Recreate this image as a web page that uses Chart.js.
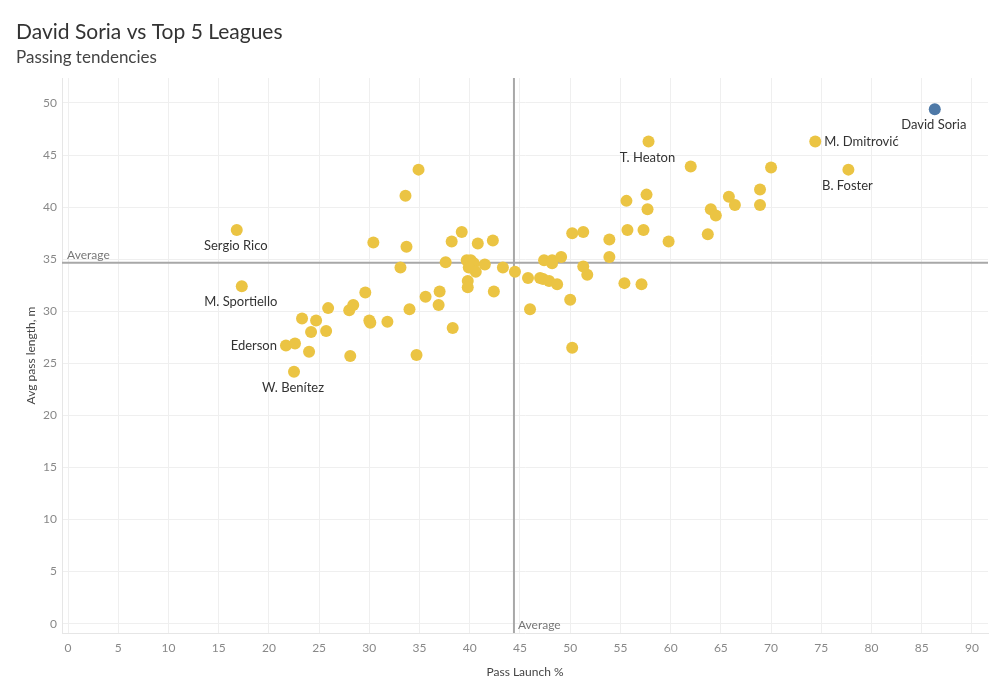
<!DOCTYPE html>
<html>
<head>
<meta charset="utf-8">
<script src="https://cdn.jsdelivr.net/npm/chart.js@4.4.1/dist/chart.umd.min.js"></script>
<style>
  html, body { margin: 0; padding: 0; background: #fff; }
</style>
</head>
<body>
<canvas id="chart" width="1000" height="700"></canvas>
<script>
// goalkeepers that get a name on the chart
const namedKeepers = ['T. Heaton', 'M. Dmitrović', 'B. Foster', 'Sergio Rico', 'M. Sportiello', 'Ederson', 'W. Benítez'];
const namedLaunch  = [57.8, 74.4, 77.7, 16.8, 17.3, 21.7, 22.5];
const namedLength  = [46.3, 46.3, 43.6, 37.8, 32.4, 26.7, 24.2];

// the highlighted keeper
const focusName   = 'David Soria';
const focusLaunch = 86.3;
const focusLength = 49.4;

// every other keeper in the top 5 leagues
const otherLaunch = [
  22.6, 30.4, 33.7, 33.1, 29.6, 35.6, 25.9, 28.0, 28.4, 34.0,
  23.3, 24.7, 30.0, 30.1, 31.8, 24.2, 25.7, 24.0, 28.1, 34.7,
  34.9, 33.6, 39.2, 38.2, 40.8, 42.3, 37.6, 39.7, 40.1, 40.4,
  39.9, 40.6, 41.5, 43.3, 44.5, 45.8, 47.0, 47.3, 47.9, 48.7,
  47.4, 48.2, 48.2, 49.1, 50.2, 51.3, 51.3, 51.7, 39.8, 39.8,
  37.0, 42.4, 36.9, 46.0, 50.0, 38.3, 50.2, 62.0, 70.0, 68.9,
  57.6, 55.6, 65.8, 57.7, 64.0, 64.5, 66.4, 68.9, 55.7, 57.3,
  53.9, 59.8, 63.7, 53.9, 55.4, 57.1
];
const otherLength = [
  26.9, 36.6, 36.2, 34.2, 31.8, 31.4, 30.3, 30.1, 30.6, 30.2,
  29.3, 29.1, 29.1, 28.9, 29.0, 28.0, 28.1, 26.1, 25.7, 25.8,
  43.6, 41.1, 37.6, 36.7, 36.5, 36.8, 34.7, 34.9, 34.9, 34.6,
  34.2, 33.8, 34.5, 34.2, 33.8, 33.2, 33.2, 33.1, 32.9, 32.6,
  34.9, 34.9, 34.6, 35.2, 37.5, 37.6, 34.3, 33.5, 32.9, 32.3,
  31.9, 31.9, 30.6, 30.2, 31.1, 28.4, 26.5, 43.9, 43.8, 41.7,
  41.2, 40.6, 41.0, 39.8, 39.8, 39.2, 40.2, 40.2, 37.8, 37.8,
  36.9, 36.7, 37.4, 35.2, 32.7, 32.6
];

// reference lines
const avgLaunch = 44.4;
const avgLength = 34.65;

// where each name sits relative to its dot
const labelSide = {
  'T. Heaton': 'below', 'M. Dmitrović': 'right', 'B. Foster': 'below',
  'Sergio Rico': 'below', 'M. Sportiello': 'below', 'Ederson': 'left',
  'W. Benítez': 'below', 'David Soria': 'below'
};

const yellow = '#EBC443';
const blue = '#4E79A7';
const fontFam = 'Lato, "Noto Sans", sans-serif';

const overlay = {
  id: 'overlay',
  beforeDatasetsDraw(chart) {
    const {ctx, chartArea: a, scales: {x, y}} = chart;
    const ax = x.getPixelForValue(avgLaunch);
    const ay = y.getPixelForValue(avgLength);
    ctx.save();
    ctx.strokeStyle = '#a8a8a8';
    ctx.lineWidth = 2;
    ctx.beginPath();
    ctx.moveTo(a.left, ay); ctx.lineTo(a.right, ay);
    ctx.moveTo(ax, a.top); ctx.lineTo(ax, a.bottom);
    ctx.stroke();
    ctx.fillStyle = '#777';
    ctx.font = '12px ' + fontFam;
    ctx.textAlign = 'left';
    ctx.textBaseline = 'alphabetic';
    ctx.fillText('Average', a.left + 5, ay - 4);
    ctx.fillText('Average', ax + 4, a.bottom - 4);
    ctx.restore();
  },
  afterDatasetsDraw(chart) {
    const {ctx} = chart;
    ctx.save();
    ctx.fillStyle = '#333';
    ctx.font = '13px ' + fontFam;
    chart.data.datasets.forEach((ds, di) => {
      if (!ds.names) return;
      chart.getDatasetMeta(di).data.forEach((pt, i) => {
        const name = ds.names[i];
        const side = labelSide[name];
        if (side === 'below') {
          ctx.textAlign = 'center'; ctx.textBaseline = 'middle';
          ctx.fillText(name, pt.x - 1, pt.y + 16);
        } else if (side === 'left') {
          ctx.textAlign = 'right'; ctx.textBaseline = 'middle';
          ctx.fillText(name, pt.x - 9, pt.y);
        } else {
          ctx.textAlign = 'left'; ctx.textBaseline = 'middle';
          ctx.fillText(name, pt.x + 9, pt.y);
        }
      });
    });
    ctx.restore();
  }
};

new Chart(document.getElementById('chart'), {
  type: 'scatter',
  data: {
    datasets: [
      {
        data: otherLaunch.map((v, i) => ({x: v, y: otherLength[i]})),
        backgroundColor: yellow, pointRadius: 6, pointBorderWidth: 0
      },
      {
        names: namedKeepers,
        data: namedLaunch.map((v, i) => ({x: v, y: namedLength[i]})),
        backgroundColor: yellow, pointRadius: 6, pointBorderWidth: 0
      },
      {
        names: [focusName],
        data: [{x: focusLaunch, y: focusLength}],
        backgroundColor: blue, pointRadius: 6, pointBorderWidth: 0
      }
    ]
  },
  options: {
    responsive: false,
    animation: false,
    layout: {padding: {left: 16, right: 12, top: 0, bottom: 0}},
    plugins: {
      legend: {display: false},
      tooltip: {enabled: false},
      title: {
        display: true, text: 'David Soria vs Top 5 Leagues', align: 'start',
        color: '#333', font: {family: fontFam, size: 21, weight: 'normal'},
        padding: {top: 20, bottom: 2}
      },
      subtitle: {
        display: true, text: 'Passing tendencies', align: 'start',
        color: '#444', font: {family: fontFam, size: 17, weight: 'normal'},
        padding: {top: 0, bottom: 10.4}
      }
    },
    scales: {
      x: {
        type: 'linear', min: -0.6, max: 91.6,
        afterFit: s => { s.height = 67; },
        grid: {color: '#efefef', drawTicks: false},
        border: {color: '#e6e6e6'},
        ticks: {stepSize: 5, includeBounds: false, padding: 8, color: '#888', font: {family: fontFam, size: 12}},
        title: {display: true, text: 'Pass Launch %', color: '#444', font: {family: fontFam, size: 12}, padding: {top: 0, bottom: 21}}
      },
      y: {
        min: -0.9, max: 52.4,
        afterFit: s => { s.width = 46; },
        grid: {color: '#efefef', drawTicks: false},
        border: {color: '#e6e6e6'},
        ticks: {stepSize: 5, includeBounds: false, padding: 5, color: '#888', font: {family: fontFam, size: 12}},
        title: {display: true, text: 'Avg pass length, m', color: '#444', font: {family: fontFam, size: 12}, padding: {top: 8, bottom: 0}}
      }
    }
  },
  plugins: [overlay]
});
</script>
</body>
</html>
